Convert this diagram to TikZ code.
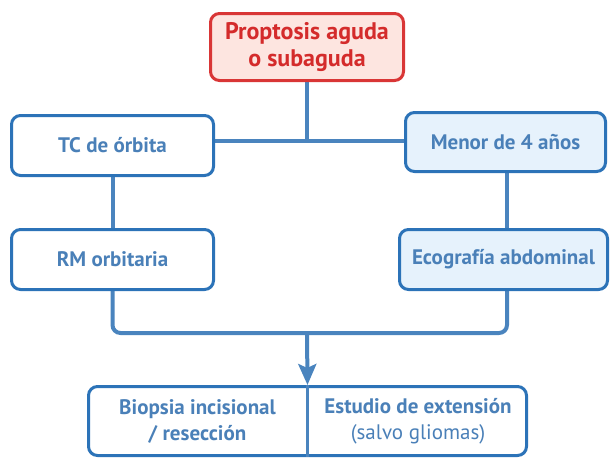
\documentclass[tikz,border=0pt]{standalone}
\usepackage{fontspec}
\setmainfont{PT Sans}
\usetikzlibrary{arrows.meta,backgrounds}
\definecolor{redtxt}{HTML}{D42B2B}
\definecolor{redbrd}{HTML}{D93636}
\definecolor{redfill}{HTML}{FDE5E0}
\definecolor{bluebrd}{HTML}{2C73B8}
\definecolor{bluetxt}{HTML}{4A80B8}
\definecolor{blueline}{HTML}{4A84BE}
\definecolor{bluefill}{HTML}{E6F2FC}
\tikzset{
  box/.style={draw=bluebrd, line width=3pt, rounded corners=9pt, fill=white,
    text=bluetxt, font=\bfseries\fontsize{21}{26}\selectfont, align=center, inner sep=0pt},
  boxlight/.style={box, fill=bluefill},
  redbox/.style={box, draw=redbrd, fill=redfill, text=redtxt, font=\bfseries\fontsize{24}{27}\selectfont},
  conn/.style={draw=blueline, line width=4pt},
  txt/.style={text=bluetxt, font=\bfseries\fontsize{21}{26}\selectfont, align=center, inner sep=0pt}
}
\begin{document}
\begin{tikzpicture}[x=1pt,y=-1pt]
\useasboundingbox (0,0) rectangle (611,459);
\coordinate (J) at (307,141);
\coordinate (L) at (112.5,333);
\coordinate (R) at (507,333);
\coordinate (M) at (307,333);
\node[redbox, minimum width=193pt, minimum height=67pt] (top) at (307,47) {Proptosis aguda\\o subaguda};
\node[box, minimum width=202pt, minimum height=60pt] (tc) at (112.5,145.5) {TC de órbita};
\node[box, minimum width=202pt, minimum height=60pt] (rm) at (112.5,259.5) {RM orbitaria};
\node[boxlight, minimum width=200pt, minimum height=59pt] (menor) at (505.5,142) {Menor de 4 años};
\node[boxlight, minimum width=208pt, minimum height=60pt] (eco) at (503.5,259.5) {Ecografía abdominal};
\node[box, minimum width=438pt, minimum height=69pt] (bot) at (307.5,421) {};
\node[txt] (bio) at (197.5,421) {Biopsia incisional\\/ resección};
\node[txt] (est) at (418,421) {Estudio de extensión\\{\mdseries (salvo gliomas)}};
\draw[draw=blueline, line width=3pt] (bot.north) -- (bot.south);
\begin{scope}[on background layer]
\draw[conn] (top.south) -- (J);
\draw[conn] (tc.east |- J) -- (menor.west |- J);
\draw[conn] (tc.south) -- (rm.north);
\draw[conn] (menor.south -| R) -- (eco.north -| R);
\draw[conn, rounded corners=8pt] (rm.south) -- (L) -- (R) -- (eco.south -| R);
\end{scope}
\draw[conn, -{Stealth[length=21pt, width=18pt, inset=4pt]}] (M) -- (bot.north);
\end{tikzpicture}
\end{document}
